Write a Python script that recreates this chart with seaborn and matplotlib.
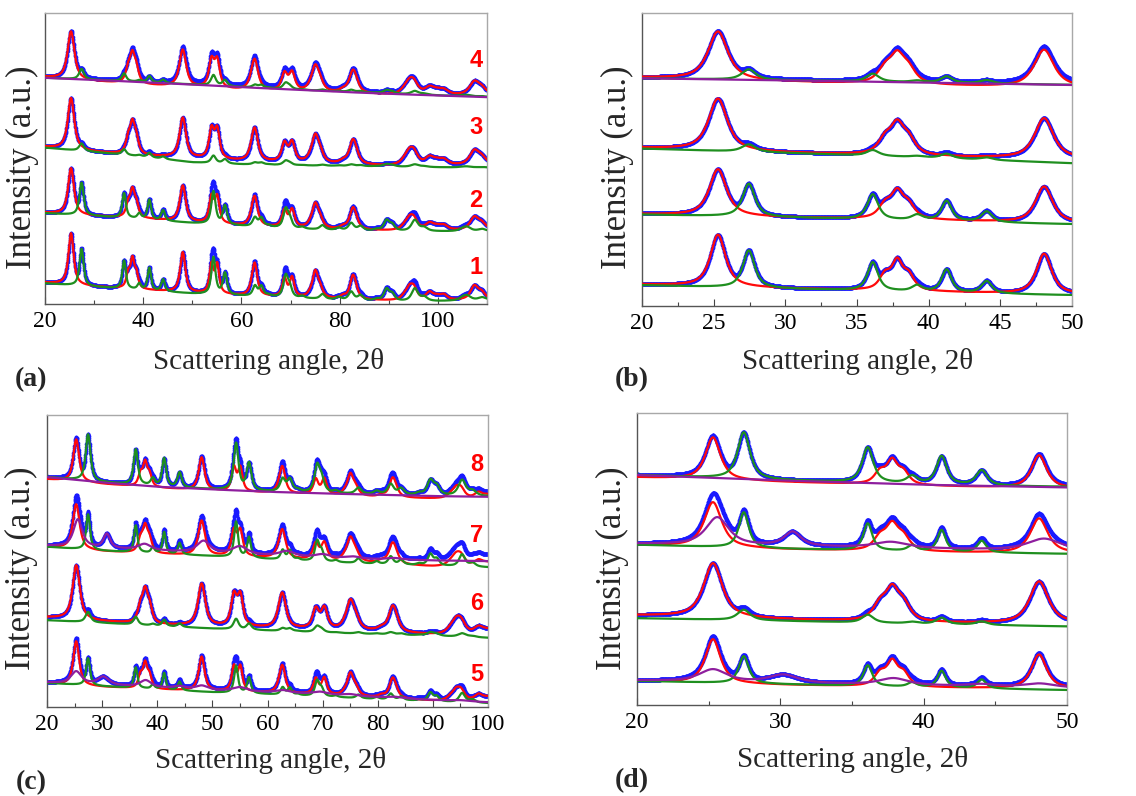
import numpy as np
import pandas as pd
import matplotlib
matplotlib.use("Agg")
import matplotlib.pyplot as plt
from matplotlib.ticker import MultipleLocator
import seaborn as sns

# ---------------- data ----------------
# Anatase reflections: 2theta, amplitude (reference sample 1, a.u.), FWHM (deg)
anatase_pos = [25.3, 36.95, 37.8, 38.6, 48.05, 53.9, 55.06, 62.1, 62.7, 68.76, 70.3, 74.0,
               75.03, 76.0, 80.7, 82.66, 83.2, 93.2, 94.2, 95.1, 98.3, 99.8, 101.2, 107.4, 108.9]
anatase_amp = [155, 42, 82, 42, 120, 85, 85, 10, 95, 55, 58, 8,
               75, 25, 8, 60, 20, 10, 30, 32, 22, 10, 15, 40, 20]
anatase_fwhm = [1.1, 0.8, 0.8, 0.8, 1.1, 0.85, 0.85, 1.0, 1.1, 0.95, 0.95, 1.1,
                1.15, 1.15, 1.2, 1.2, 1.2, 1.4, 1.4, 1.4, 1.5, 1.5, 1.5, 1.6, 1.6]

# Rutile reflections
rutile_pos = [27.45, 36.1, 39.2, 41.25, 44.05, 54.3, 56.65, 62.75, 64.05, 65.5, 69.0, 69.8,
              72.4, 76.5, 79.8, 82.35, 84.25, 87.5, 89.55, 90.7, 95.3, 97.2, 105.1, 106.0, 109.0]
rutile_amp = [112, 85, 18, 68, 36, 112, 65, 30, 30, 5, 62, 30,
              6, 15, 8, 25, 15, 5, 35, 20, 38, 12, 8, 12, 8]
rutile_fwhm = [0.9, 0.8, 0.8, 0.75, 0.8, 0.9, 0.9, 0.95, 0.95, 1.0, 1.0, 1.0,
               1.05, 1.1, 1.1, 1.15, 1.15, 1.2, 1.2, 1.2, 1.4, 1.4, 1.6, 1.6, 1.6]

# Third (broad) component of samples 5 and 7
extra_pos_5 = [25.3, 30.2, 37.9, 44.0, 48.1, 55.0, 62.8, 69.5, 75.0, 83.0, 95.0]
extra_amp_5 = [37, 24, 20, 7, 12, 12, 8, 8, 5, 4, 3]
extra_fwhm_5 = [2.3, 2.4, 2.4, 2.4, 2.6, 3.0, 3.0, 3.2, 3.2, 3.2, 3.6]
extra_pos_7 = [25.6, 30.85, 37.7, 48.4, 55.0, 63.5, 70.0, 75.5, 83.0]
extra_amp_7 = [83, 42, 18, 35, 23, 15, 10, 6, 5]
extra_fwhm_7 = [1.9, 1.4, 2.8, 2.8, 3.2, 3.2, 3.2, 3.2, 3.6]

# per-sample phase scale / width factors (samples 1..8)
sample_labels = ["1", "2", "3", "4", "5", "6", "7", "8"]
anatase_scale = [1.0, 0.9, 1.0, 0.93, 0.85, 1.05, 0.87, 0.82]
anatase_width = [1.15, 1.3, 1.42, 1.5, 1.15, 1.42, 1.32, 1.15]
rutile_scale = [1.0, 0.88, 0.2, 0.28, 0.73, 0.28, 0.95, 1.25]
rutile_width = [1.1, 1.15, 1.3, 1.3, 0.92, 1.2, 0.92, 1.15]

# backgrounds (stacked, a.u.) at these angles
bg_x = [20, 30, 40, 50, 60, 70, 80, 90, 100, 110]
red_bg_1 = [64, 52, 42, 33, 25, 19, 14, 10, 10, 12]
red_bg_2 = [274, 264, 256, 245, 235, 228, 223, 220, 220, 222]
red_bg_3 = [472, 457, 446, 437, 429, 424, 419, 415, 415, 417]
red_bg_4 = [682, 669, 658, 650, 642, 637, 633, 628, 626, 626]
red_bg_5 = [71, 60, 52, 47, 42, 35, 27, 18, 16, 16]
red_bg_6 = [268, 256, 246, 241, 236, 231, 225, 216, 210, 210]
red_bg_7 = [480, 466, 458, 452, 446, 438, 429, 420, 416, 416]
red_bg_8 = [682, 668, 656, 647, 641, 634, 628, 624, 622, 622]

green_bg_1 = [62, 51, 41, 31, 24, 18, 12, 7, 8, 12]
green_bg_2 = [273, 264, 254, 243, 234, 226, 221, 218, 218, 218]
green_bg_3 = [470, 457, 443, 426, 420, 417, 415, 413, 411, 410]
green_bg_5 = [72, 62, 53, 44, 38, 31, 23, 16, 11, 11]
green_bg_6 = [260, 252, 243, 235, 229, 223, 218, 213, 207, 207]
green_bg_7 = [480, 468, 460, 452, 443, 435, 428, 423, 418, 418]

purple_bg_4 = [680, 674, 667, 660, 652, 645, 638, 632, 627, 622]
purple_bg_5 = [73, 66, 58, 50, 44, 37, 29, 21, 14, 14]
purple_bg_7 = [483, 476, 468, 461, 454, 447, 442, 439, 437, 437]
purple_bg_8 = [689, 673, 660, 652, 645, 640, 636, 632, 630, 630]

red_bgs = [red_bg_1, red_bg_2, red_bg_3, red_bg_4, red_bg_5, red_bg_6, red_bg_7, red_bg_8]
green_bgs = [green_bg_1, green_bg_2, green_bg_3, purple_bg_4, green_bg_5, green_bg_6, green_bg_7, purple_bg_8]
purple_bgs = [None, None, None, purple_bg_4, purple_bg_5, None, purple_bg_7, purple_bg_8]
extras = [None, None, None, None, (extra_pos_5, extra_amp_5, extra_fwhm_5), None,
          (extra_pos_7, extra_amp_7, extra_fwhm_7), None]

# ---------------- styling ----------------
sns.set_style("white")
plt.rcParams["font.family"] = ["Liberation Serif", "DejaVu Serif"]

BLUE = "#1a1aff"
RED = "#ff0a0a"
GREEN = "#1f8f1f"
PURPLE = "#8e1e9e"
ETA = 0.8


def profile(x, pos, amp, fwhm, scale, wf):
    y = np.zeros_like(x)
    for p, a, w in zip(pos, amp, fwhm):
        w = w * wf
        d2 = ((x - p) / w) ** 2
        y += scale * a * (ETA / (1 + 4 * d2) + (1 - ETA) * np.exp(-4 * np.log(2) * d2))
    return y


def draw_panel(ax, idxs, xmin, xmax, major, minor, labels=None):
    x = np.linspace(xmin, xmax, 2000)
    for i in idxs:
        A = profile(x, anatase_pos, anatase_amp, anatase_fwhm, anatase_scale[i], anatase_width[i])
        R = profile(x, rutile_pos, rutile_amp, rutile_fwhm, rutile_scale[i], rutile_width[i])
        P = np.zeros_like(x)
        if extras[i] is not None:
            P = profile(x, *extras[i], 1.0, 1.0)
        rb = np.interp(x, bg_x, red_bgs[i])
        gb = np.interp(x, bg_x, green_bgs[i])
        bgs = [rb, gb]
        pb = None
        if purple_bgs[i] is not None:
            pb = np.interp(x, bg_x, purple_bgs[i])
            bgs.append(pb)
        obs = np.max(bgs, axis=0) + np.sqrt(A ** 2 + R ** 2 + P ** 2)
        df = pd.DataFrame({"x": x, "obs": obs, "red": rb + A, "green": gb + R})
        sns.scatterplot(data=df, x="x", y="obs", ax=ax, color=BLUE, s=7, linewidth=0,
                        zorder=2, legend=False)
        sns.lineplot(data=df, x="x", y="red", ax=ax, color=RED, lw=1.6, estimator=None,
                     zorder=3, legend=False)
        sns.lineplot(data=df, x="x", y="green", ax=ax, color=GREEN, lw=1.6, estimator=None,
                     zorder=4, legend=False)
        if pb is not None:
            sns.lineplot(x=x, y=pb + P, ax=ax, color=PURPLE, lw=1.6, estimator=None,
                         zorder=5, legend=False)
    ax.set_xlim(xmin, xmax)
    ax.set_ylim(0, 875)
    ax.set_yticks([])
    ax.xaxis.set_major_locator(MultipleLocator(major))
    ax.xaxis.set_minor_locator(MultipleLocator(minor))
    ax.tick_params(axis="x", which="both", direction="in", bottom=True, top=False,
                   colors="#444444", labelcolor="black", labelsize=17, pad=5)
    ax.tick_params(axis="x", which="major", length=5, width=0.8)
    ax.tick_params(axis="x", which="minor", length=3, width=0.8)
    for s in ["bottom", "left"]:
        ax.spines[s].set_color("#555555")
        ax.spines[s].set_linewidth(1.0)
    for s in ["top", "right"]:
        ax.spines[s].set_color("#a8a8a8")
        ax.spines[s].set_linewidth(1.0)
    ax.set_xlabel("Scattering angle, 2θ", fontsize=21)
    ax.set_ylabel("Intensity (a.u.)", fontsize=25)
    ax.xaxis.label.set_va("center")
    ax.yaxis.label.set_va("center")
    if labels is not None:
        for (lab, yy) in labels:
            ax.text(0.975, yy, lab, transform=ax.transAxes, ha="center", va="center",
                    color="#ff0000", fontsize=17, fontweight="bold",
                    family=["Liberation Sans", "DejaVu Sans"])


W, H = 1136, 796
fig = plt.figure(figsize=(W / 100, H / 100), dpi=100)

def axes_px(l, t, r, b):
    return fig.add_axes([l / W, 1 - b / H, (r - l) / W, (b - t) / H])

ax_a = axes_px(45, 13, 487, 304)
ax_b = axes_px(642, 13, 1072, 306)
ax_c = axes_px(47, 415, 488, 707)
ax_d = axes_px(637, 413, 1067, 705)

draw_panel(ax_a, [0, 1, 2, 3], 20, 110, 20, 10,
           labels=[("4", 0.838), ("3", 0.608), ("2", 0.357), ("1", 0.124)])
draw_panel(ax_b, [0, 1, 2, 3], 20, 50, 5, 2.5)
draw_panel(ax_c, [4, 5, 6, 7], 20, 100, 10, 5,
           labels=[("8", 0.829), ("7", 0.589), ("6", 0.356), ("5", 0.110)])
draw_panel(ax_d, [4, 5, 6, 7], 20, 50, 10, 5)

ax_a.xaxis.set_label_coords(0.505, -0.199)
ax_b.xaxis.set_label_coords(0.502, -0.191)
ax_c.xaxis.set_label_coords(0.506, -0.182)
ax_d.xaxis.set_label_coords(0.502, -0.188)
ax_a.yaxis.set_label_coords(-0.052, 0.47)
ax_b.yaxis.set_label_coords(-0.056, 0.474)
ax_c.yaxis.set_label_coords(-0.057, 0.475)
ax_d.yaxis.set_label_coords(-0.056, 0.468)

for lab, (px, py) in zip(["(a)", "(b)", "(c)", "(d)"],
                         [(31, 380), (632, 380), (31, 783), (632, 781)]):
    fig.text(px / W, 1 - py / H, lab, ha="center", va="center", fontsize=20,
             fontweight="bold")

fig.savefig("out.png", dpi=100, facecolor="white")
